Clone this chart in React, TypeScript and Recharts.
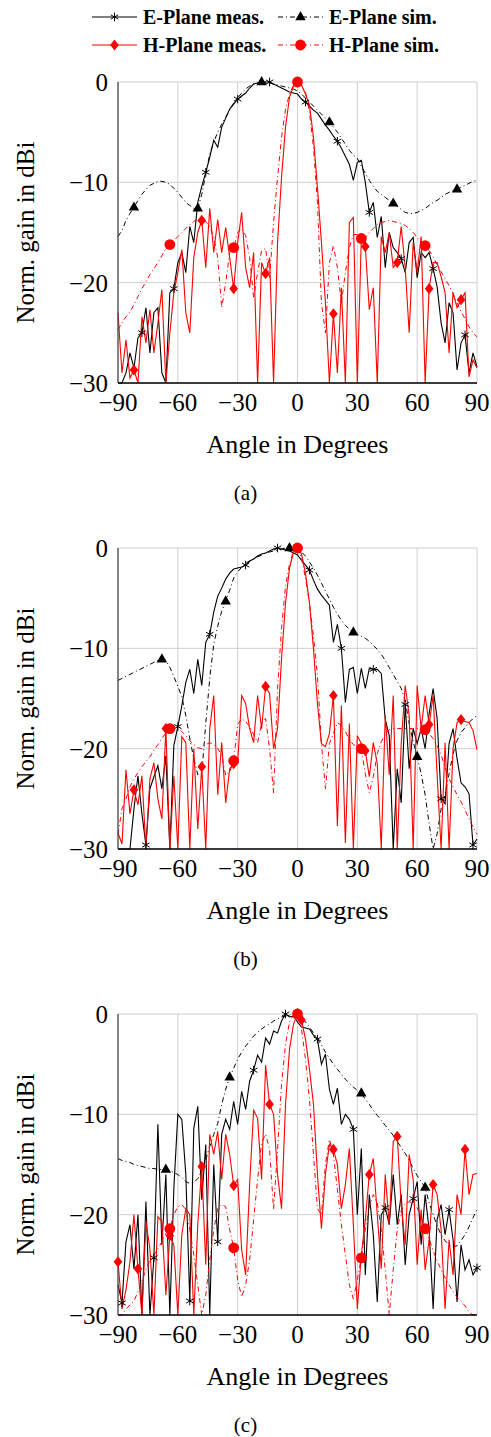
import React from "react";
import { CartesianGrid, Line, LineChart, XAxis, YAxis } from "recharts";

// angle grid (deg), shared by every series
const ANG = [
  -90, -88, -86, -84, -82, -80, -78, -76, -74, -72,
  -70, -68, -66, -64, -62, -60, -58, -56, -54, -52,
  -50, -48, -46, -44, -42, -40, -38, -36, -34, -32,
  -30, -28, -26, -24, -22, -20, -18, -16, -14, -12,
  -10, -8, -6, -4, -2, 0, 2, 4, 6, 8,
  10, 12, 14, 16, 18, 20, 22, 24, 26, 28,
  30, 32, 34, 36, 38, 40, 42, 44, 46, 48,
  50, 52, 54, 56, 58, 60, 62, 64, 66, 68,
  70, 72, 74, 76, 78, 80, 82, 84, 86, 88,
  90,
];

const X_TICKS = [-90, -60, -30, 0, 30, 60, 90];
const Y_TICKS = [-30, -20, -10, 0];

// ---- (a) ----
const EM_A = [
  -30, -30, -29, -27, -28.5, -25.5, -25, -22.5, -27, -23,
  -22.5, -29, -30, -21, -20.6, -18, -17, -19, -14.4, -16,
  -12, -10.4, -9, -7.5, -5.8, -6.5, -4.5, -3.6, -2.7, -2.2,
  -1.7, -1.4, -1.1, -0.6, -0.2, -0.1, -0.1, 0, 0, -0.2,
  -0.4, -0.6, -0.8, -1.0, -1.1, -1.2, -1.7, -2.0, -2.4, -2.8,
  -3.1, -3.7, -4.3, -4.8, -5.4, -5.9, -6.6, -7.4, -8.2, -9.8,
  -8.0, -7.8, -10, -13, -12, -15.5, -13.4, -18.5, -15, -16.5,
  -17, -17.6, -19, -16, -15.5, -19.5, -17, -17.5, -17, -18.6,
  -20.4, -24, -26, -22, -23, -28.7, -26, -25.2, -29, -27,
  -28.4,
];
const ES_A = [
  -15.4, -14.8, -13.8, -13.1, -12.5, -11.8, -11.2, -10.7, -10.3, -10.1,
  -9.9, -9.9, -10.0, -10.2, -10.6, -11.0, -11.5, -12.0, -12.3, -12.6,
  -12.6, -11.2, -9.2, -7.2, -6.0, -5.0, -4.2, -3.5, -2.8, -2.1,
  -1.6, -1.1, -0.7, -0.4, -0.2, -0.1, 0, 0, -0.1, -0.2,
  -0.3, -0.4, -0.5, -0.6, -0.7, -0.9, -1.2, -1.6, -2.0, -2.4,
  -2.8, -3.2, -3.6, -4.0, -4.5, -5.0, -5.6, -6.2, -6.8, -7.3,
  -7.6, -8.4, -9.1, -9.8, -10.4, -10.9, -11.2, -11.5, -11.8, -12.1,
  -12.4, -12.7, -13.0, -13.1, -13.1, -13.0, -12.8, -12.6, -12.3, -12.0,
  -11.8, -11.5, -11.2, -11.0, -10.8, -10.7, -10.5, -10.3, -10.1, -9.9,
  -9.8,
];
const HM_A = [
  -23, -29, -25.7, -29.5, -28.7, -30, -23.4, -26, -22.7, -27,
  -24, -20.7, -30, -25, -21, -19, -16.7, -23, -25, -17.5,
  -15, -13.8, -18.5, -12.6, -17, -13.7, -17, -14.5, -17.5, -20.6,
  -16, -13, -18.5, -20.5, -17, -30, -18, -19.1, -17.5, -30,
  -16, -9.5, -4.5, -1.5, -0.4, 0, -0.3, -1.2, -2.3, -5.5,
  -10.5, -16, -22, -30, -23.1, -29, -20.5, -30, -14, -13.5,
  -30, -15.5, -16.4, -22.7, -20.5, -30, -15.4, -17, -15, -18.5,
  -18, -14.4, -18.5, -25, -16, -19, -15.4, -30, -20.6, -18,
  -18, -19.4, -21, -27, -21, -22.5, -21.7, -21, -29.4, -27.7,
  -28.5,
];
const HS_A = [
  -24.7, -24, -23.4, -22.9, -22.2, -21.4, -20.6, -19.9, -19.2, -18.6,
  -18, -17.3, -16.6, -16.2, -15.8, -15.4, -15, -14.6, -14.2, -13.9,
  -13.7, -13.7, -13.9, -14.4, -15.5, -17.5, -22.5, -20, -17, -16.5,
  -15, -14.6, -15.3, -17.5, -21.5, -19, -16.8, -16.6, -19.5, -14,
  -9.5, -5.5, -2.7, -1.2, -0.3, 0, -0.3, -1, -3, -6.5,
  -12, -22, -25, -18, -16.3, -18.5, -22, -19, -16.5, -15.2,
  -15.2, -15.6, -15.5, -15, -14.6, -14.2, -14, -13.9, -13.8, -13.9,
  -14, -14.1, -14.3, -14.6, -15, -15.5, -15.9, -16.3, -16.8, -17.4,
  -18.2, -18.9, -19.6, -20.3, -21.1, -22, -22.9, -23.6, -24.4, -25,
  -25.4,
];

// ---- (b) ----
const EM_B = [
  -30, -30, -30, -30, -26, -22.7, -26.5, -29.6, -24, -22.8,
  -21.7, -24, -20.7, -30, -19.7, -17.8, -15.7, -13.4, -12.1, -14.5,
  -11.1, -13.7, -9.4, -8.6, -6.4, -4.8, -4.0, -3.1, -2.5, -2.1,
  -2.0, -1.9, -1.7, -1.3, -1.1, -0.8, -0.6, -0.5, -0.3, -0.1,
  0, -0.1, -0.2, -0.3, -0.5, -0.7, -1.2, -1.7, -2.2, -3.2,
  -4.1, -4.7, -5.2, -5.7, -9.4, -7.6, -10, -15.4, -12.1, -11.9,
  -14.5, -12, -14, -12, -12.1, -12.1, -12.5, -17.1, -18.7, -30,
  -22, -25.4, -15.6, -22, -18, -19.5, -18, -20, -16.5, -14,
  -17, -25, -25.5, -19.5, -18, -21, -23.4, -23.8, -24.5, -29.6,
  -29,
];
const ES_B = [
  -13.2, -13.0, -12.8, -12.6, -12.4, -12.2, -12.0, -11.8, -11.6, -11.4,
  -11.2, -11.1, -11.2, -11.9, -12.8, -13.8, -14.8, -16.7, -19, -21,
  -22.6, -22.5, -17.5, -13, -9.6, -7.8, -6.3, -5.3, -4.2, -3.0,
  -2.4, -1.9, -1.5, -1.3, -1.1, -0.9, -0.7, -0.5, -0.4, -0.3,
  -0.2, -0.1, 0, 0, 0, -0.1, -0.4, -0.8, -1.4, -2.0,
  -2.7, -3.5, -4.3, -5.1, -5.9, -6.6, -7.2, -7.7, -8.1, -8.4,
  -8.6, -8.8, -9.0, -9.3, -9.7, -10.1, -10.6, -11.2, -11.9, -12.6,
  -13.3, -14.0, -15.2, -17.5, -19.3, -20.8, -22.5, -24.6, -27.5, -30,
  -28.5, -26, -24.6, -22.5, -20.5, -19.2, -18.4, -17.9, -17.4, -17.0,
  -16.7,
];
const HM_B = [
  -28.4, -29.5, -22.1, -26.5, -24.1, -25.6, -22.7, -30, -23, -21.4,
  -25, -27, -18, -30, -22.7, -30, -18.8, -19.4, -30, -20,
  -28, -21.8, -30, -18, -14.7, -24.6, -19.4, -25.4, -22, -21.5,
  -21.4, -14.7, -15.5, -18, -19.4, -14.7, -18, -13.8, -14.5, -20,
  -18, -11, -5.5, -2, -0.4, 0, -0.6, -2.5, -5.5, -10,
  -15.5, -19.5, -19.8, -18.5, -14.7, -27.7, -15.7, -29.4, -17.5, -30,
  -18.7, -19.5, -20.2, -22.8, -19.4, -21.5, -30, -16.7, -22.6, -14.7,
  -30, -19.5, -13.7, -16.7, -30, -13.7, -18, -14.7, -17.6, -14.7,
  -22.6, -30, -19.4, -30, -20, -17.4, -17.1, -17.3, -17.4, -18.2,
  -20.1,
];
const HS_B = [
  -28.5, -26, -25, -23.8, -23, -22.4, -21.8, -21.3, -20.8, -20.2,
  -19.6, -19, -18.4, -18, -17.8, -17.9, -18.3, -18.7, -19.2, -19.6,
  -19.9, -20, -19.6, -19.4, -19.6, -20, -20.6, -22.7, -22.3, -21.2,
  -17.6, -17, -17.3, -17.8, -18.6, -19.4, -17.5, -17, -20, -24.4,
  -14, -8, -3.8, -1.6, -0.3, 0, -1, -3, -5.5, -8.8,
  -12.7, -19.5, -24, -19.5, -18.5, -17.4, -17.7, -18.3, -19.1, -19.6,
  -19.8, -20, -22.5, -24.4, -22.8, -20.5, -19.3, -18.6, -18.1, -18,
  -18, -18, -18, -18, -18, -18, -18, -18.1, -18.5, -19,
  -19.7, -20.6, -21.9, -23, -23.8, -24.6, -25.3, -26.1, -27, -27.8,
  -28.5,
];

// ---- (c) ----
const EM_C = [
  -27, -28.8, -22.7, -21, -25.4, -20, -30, -18.7, -30, -24.3,
  -11, -23, -16, -30, -17.4, -10, -10.5, -16, -28.6, -11.4,
  -9.2, -18.5, -13, -30, -15, -22.7, -12, -10.5, -11.5, -8.7,
  -11, -7.7, -9.5, -6.7, -5.6, -4.1, -4.8, -2.4, -3, -1.7,
  -1.9, -0.7, 0, -0.3, -0.2, -0.8, -1.3, -1.4, -1.5, -2.1,
  -2.5, -5, -4, -7.5, -9, -7.4, -11, -10, -10.5, -11.5,
  -20, -13.4, -26, -18, -22, -28.7, -20, -19.3, -21, -16,
  -21, -18, -25, -20, -18.4, -16.7, -23, -18, -21.5, -29.4,
  -20.5, -19, -22, -19.5, -22.5, -28.7, -23, -25.5, -24.5, -26,
  -25.3,
];
const ES_C = [
  -14.4, -14.6, -14.7, -14.8, -15.0, -15.1, -15.2, -15.3, -15.4, -15.4,
  -15.5, -15.5, -15.5, -15.6, -15.8, -16.0, -16.3, -16.7, -16.9, -16.8,
  -16.4, -15.6, -14.5, -13.2, -12.0, -10.9, -9.0, -7.5, -6.3, -5.4,
  -4.5, -3.8, -3.2, -2.7, -2.2, -1.8, -1.5, -1.2, -1.0, -0.7,
  -0.5, -0.3, -0.2, -0.1, 0, 0, -0.3, -0.8, -1.3, -1.9,
  -2.5, -3.1, -3.8, -4.4, -5.0, -5.5, -6.0, -6.5, -6.9, -7.3,
  -7.6, -7.9, -8.5, -9.0, -9.6, -10.1, -10.6, -11.1, -11.6, -12.1,
  -12.7, -13.3, -13.9, -14.6, -15.4, -16.1, -16.7, -17.3, -18.8, -20.0,
  -21.1, -22.0, -22.6, -23.0, -23.2, -23.1, -22.6, -22, -21.2, -20.3,
  -19.5,
];
const HM_C = [
  -24.7, -29.4, -27.5, -24.7, -20, -25.4, -30, -20.7, -23.4, -30,
  -20.2, -20.7, -28, -22.1, -23, -30, -22, -19.4, -20, -30,
  -21, -15.2, -25, -12, -14, -11.7, -16.5, -12, -14, -17.1,
  -16.5, -23.5, -26, -17, -9.6, -10.4, -16.5, -5.1, -9, -10,
  -16, -19.4, -9, -3.5, -1, 0, -0.6, -2.5, -5.5, -9,
  -16, -21.4, -16, -13, -13.5, -15, -19.4, -17, -13.4, -21,
  -29.4, -24, -20.5, -16, -14.4, -20, -25.4, -16, -21, -12.7,
  -12.2, -19, -23, -14, -16.5, -25, -19.5, -25.5, -22.5, -17,
  -18, -21.5, -29.4, -22.5, -26, -18, -20, -13.5, -18, -16,
  -15.9,
];
const HS_C = [
  -30, -30, -29.4, -29, -28.6, -27.7, -26.6, -25.5, -24.5, -24,
  -23.4, -22.7, -21.9, -21.4, -20, -19.2, -19, -19.5, -21.5, -24,
  -27, -30, -28, -24.5, -21.5, -19.4, -19, -19.2, -21.5, -23.3,
  -26.5, -28.2, -27, -24.5, -20.5, -16.5, -12.8, -12, -13.5, -19.5,
  -13.5, -7, -3, -0.8, -0.1, 0, -1.5, -4.5, -8.5, -14,
  -19.4, -20, -15, -12.5, -14, -17.5, -21, -24, -27, -28.4,
  -26.5, -24.3, -21.5, -19.2, -18, -18.8, -21.5, -25.5, -30, -25.5,
  -21.5, -19.6, -18.9, -18.7, -18.9, -19.3, -20.2, -21.4, -22.4, -23.6,
  -24.6, -25.5, -26.3, -27, -27.7, -28.2, -28.6, -29.1, -29.7, -30,
  -30,
];

// angles that carry a marker
const EM_MARKS_A = [-78, -62, -46, -30, -14, 4, 20, 36, 52, 68, 84];
const ES_MARKS_A = [-82, -50, -18, 16, 48, 80];
const EM_MARKS_B = [-76, -60, -44, -26, -10, 6, 22, 38, 54, 72, 88];
const ES_MARKS_B = [-68, -36, -4, 28, 60];
const EM_MARKS_C = [-88, -72, -54, -40, -22, -6, 10, 28, 44, 58, 76, 90];
const ES_MARKS_C = [-66, -34, 0, 32, 64];
const HM_MARKS_AB = [-82, -66, -48, -32, -16, 0, 18, 34, 50, 66, 82];
const HM_MARKS_C = [-90, -80, -64, -48, -32, -14, 2, 18, 36, 50, 68, 84];
const HS_MARKS = [-64, -32, 0, 32, 64];

const SERIF = "Liberation Serif";
const RED = "#ff0000";
const DASHDOT = "5 3 1 3";

type Kind = "ast" | "tri" | "dia" | "dot";

function shape(kind: Kind, cx: number, cy: number) {
  if (kind === "ast") {
    const r = 4.3;
    const dx = r * Math.cos(Math.PI / 6);
    const dy = r * Math.sin(Math.PI / 6);
    return (
      <g stroke="#000" strokeWidth={1}>
        <line x1={cx} y1={cy - r} x2={cx} y2={cy + r} />
        <line x1={cx - dx} y1={cy - dy} x2={cx + dx} y2={cy + dy} />
        <line x1={cx - dx} y1={cy + dy} x2={cx + dx} y2={cy - dy} />
      </g>
    );
  }
  if (kind === "tri") {
    return <polygon points={`${cx},${cy - 6} ${cx - 5.2},${cy + 3.2} ${cx + 5.2},${cy + 3.2}`} fill="#000" />;
  }
  if (kind === "dia") {
    return <polygon points={`${cx},${cy - 5.6} ${cx + 4.3},${cy} ${cx},${cy + 5.6} ${cx - 4.3},${cy}`} fill={RED} />;
  }
  return <circle cx={cx} cy={cy} r={5.4} fill={RED} />;
}

function markDot(kind: Kind, key: string, marks: number[]) {
  return (p: any) => {
    const { cx, cy, payload, index } = p;
    const v = payload[key];
    if (cx == null || cy == null || !marks.includes(payload.a) || v <= -30) {
      return <g key={`n${key}${index}`} />;
    }
    return <g key={`m${key}${index}`}>{shape(kind, cx, cy)}</g>;
  };
}

const fmt = (v: number) => (v < 0 ? `\u2212${-v}` : `${v}`);

function YTitle(props: any) {
  const vb = props.viewBox || { y: 20, height: 301 };
  const cx = 25;
  const cy = vb.y + vb.height / 2;
  return (
    <text
      x={cx}
      y={cy}
      dy="0.34em"
      transform={`rotate(-90 ${cx} ${cy})`}
      textAnchor="middle"
      fontFamily={SERIF}
      fontSize={25}
      fill="#000"
    >
      Norm. gain in dBi
    </text>
  );
}

type PanelProps = {
  top: number;
  em: number[];
  es: number[];
  hm: number[];
  hs: number[];
  emMarks: number[];
  esMarks: number[];
  hmMarks: number[];
  caption: string;
};

function Panel({ top, em, es, hm, hs, emMarks, esMarks, hmMarks, caption }: PanelProps) {
  const rows = ANG.map((a, i) => ({ a, em: em[i], es: es[i], hm: hm[i], hs: hs[i] }));
  const tick = { fontFamily: SERIF, fontSize: 25, fill: "#000" };
  return (
    <>
      <div style={{ position: "absolute", left: 0, top }}>
        <LineChart width={491} height={400} data={rows} margin={{ top: 20, right: 14, bottom: 0, left: 0 }}>
          <CartesianGrid stroke="#cfcfcf" strokeWidth={1} />
          <XAxis
            dataKey="a"
            type="number"
            domain={[-90, 90]}
            ticks={X_TICKS}
            interval={0}
            tickLine={false}
            tickSize={8}
            tickMargin={2}
            height={79}
            axisLine={{ stroke: "#000", strokeWidth: 1.3 }}
            tick={tick}
            tickFormatter={fmt}
            label={{
              value: "Angle in Degrees",
              position: "insideBottom",
              offset: 9,
              style: { fontFamily: SERIF, fontSize: 26, fill: "#000" },
            }}
          />
          <YAxis
            type="number"
            domain={[-30, 0]}
            ticks={Y_TICKS}
            interval={0}
            width={118}
            tickLine={false}
            tickSize={8}
            tickMargin={2}
            axisLine={{ stroke: "#444", strokeWidth: 1.2 }}
            tick={tick}
            tickFormatter={fmt}
            label={<YTitle />}
          />
          <Line
            dataKey="em"
            type="linear"
            stroke="#000"
            strokeWidth={1.1}
            dot={markDot("ast", "em", emMarks)}
            activeDot={false}
            isAnimationActive={false}
          />
          <Line
            dataKey="es"
            type="linear"
            stroke="#000"
            strokeWidth={1}
            strokeDasharray={DASHDOT}
            dot={markDot("tri", "es", esMarks)}
            activeDot={false}
            isAnimationActive={false}
          />
          <Line
            dataKey="hm"
            type="linear"
            stroke={RED}
            strokeWidth={1.1}
            dot={markDot("dia", "hm", hmMarks)}
            activeDot={false}
            isAnimationActive={false}
          />
          <Line
            dataKey="hs"
            type="linear"
            stroke={RED}
            strokeWidth={1}
            strokeDasharray={DASHDOT}
            dot={markDot("dot", "hs", HS_MARKS)}
            activeDot={false}
            isAnimationActive={false}
          />
        </LineChart>
      </div>
      <div
        style={{
          position: "absolute",
          left: 0,
          width: 491,
          top: top + 421,
          textAlign: "center",
          fontFamily: SERIF,
          fontSize: 21,
          lineHeight: "21px",
          color: "#000",
        }}
      >
        {caption}
      </div>
    </>
  );
}

function LegendBox() {
  const entries = [
    { x: 92, y: 17, color: "#000", dash: undefined, kind: "ast" as Kind, label: "E-Plane meas." },
    { x: 278, y: 17, color: "#000", dash: DASHDOT, kind: "tri" as Kind, label: "E-Plane sim." },
    { x: 92, y: 45, color: RED, dash: undefined, kind: "dia" as Kind, label: "H-Plane meas." },
    { x: 278, y: 45, color: RED, dash: DASHDOT, kind: "dot" as Kind, label: "H-Plane sim." },
  ];
  return (
    <svg width={491} height={62} style={{ position: "absolute", left: 0, top: 0 }}>
      {entries.map((e) => (
        <g key={e.label}>
          <line x1={e.x} y1={e.y} x2={e.x + 45} y2={e.y} stroke={e.color} strokeWidth={1} strokeDasharray={e.dash} />
          {shape(e.kind, e.x + 22.5, e.y)}
          <text x={e.x + 51} y={e.y + 7} fontFamily={SERIF} fontWeight="bold" fontSize={20} fill="#000">
            {e.label}
          </text>
        </g>
      ))}
    </svg>
  );
}

export default function App() {
  return (
    <div style={{ position: "absolute", left: 0, top: 0, width: 491, height: 1437, background: "#fff" }}>
      <LegendBox />
      <Panel top={62} em={EM_A} es={ES_A} hm={HM_A} hs={HS_A} emMarks={EM_MARKS_A} esMarks={ES_MARKS_A} hmMarks={HM_MARKS_AB} caption="(a)" />
      <Panel top={528} em={EM_B} es={ES_B} hm={HM_B} hs={HS_B} emMarks={EM_MARKS_B} esMarks={ES_MARKS_B} hmMarks={HM_MARKS_AB} caption="(b)" />
      <Panel top={994} em={EM_C} es={ES_C} hm={HM_C} hs={HS_C} emMarks={EM_MARKS_C} esMarks={ES_MARKS_C} hmMarks={HM_MARKS_C} caption="(c)" />
    </div>
  );
}
